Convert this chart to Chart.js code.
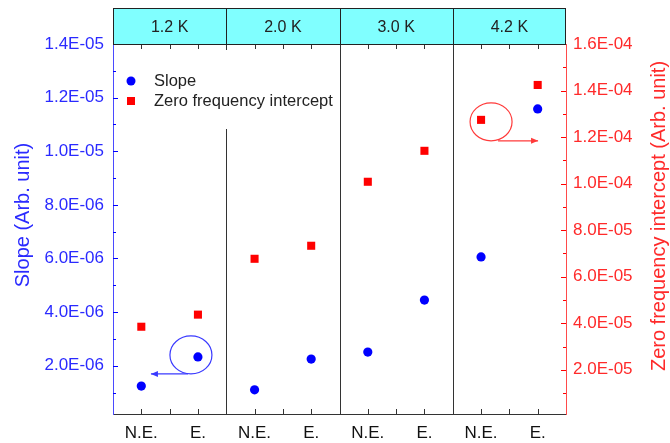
<!DOCTYPE html>
<html><head><meta charset="utf-8">
<script src="https://cdn.jsdelivr.net/npm/chart.js@4"></script>
<style>html,body{margin:0;padding:0;background:#fff;}canvas{display:block;}</style>
</head><body>
<canvas id="c" width="670" height="443" style="width:670px;height:443px"></canvas>
<script>
// ---- data ----
const temperatures = ['1.2 K', '2.0 K', '3.0 K', '4.2 K'];
const conditions = ['N.E.', 'E.'];
const seriesNames = ['Slope', 'Zero frequency intercept'];
const slopeNE = [1.24e-6, 1.10e-6, 2.51e-6, 6.06e-6];
const slopeE = [2.33e-6, 2.25e-6, 4.45e-6, 1.158e-5];
const interceptNE = [3.85e-5, 6.77e-5, 1.008e-4, 1.274e-4];
const interceptE = [4.37e-5, 7.33e-5, 1.141e-4, 1.424e-4];
const leftTickValues = [2e-6, 4e-6, 6e-6, 8e-6, 1e-5, 1.2e-5, 1.4e-5];
const leftTickLabels = ['2.0E-06', '4.0E-06', '6.0E-06', '8.0E-06', '1.0E-05', '1.2E-05', '1.4E-05'];
const rightTickValues = [2e-5, 4e-5, 6e-5, 8e-5, 1e-4, 1.2e-4, 1.4e-4, 1.6e-4];
const rightTickLabels = ['2.0E-05', '4.0E-05', '6.0E-05', '8.0E-05', '1.0E-04', '1.2E-04', '1.4E-04', '1.6E-04'];
const leftTitle = 'Slope (Arb. unit)';
const rightTitle = 'Zero frequency intercept (Arb. unit)';

// ---- styling / layout ----
const FONT = 'Arial, "Liberation Sans", sans-serif';
const BLUE = '#0000ff', RED = '#ff0000';
const BLUE_TXT = '#2a2aff', RED_TXT = '#ff2a2a';
const SLOTS = 4;
function xPos(panel, cond) { return panel * SLOTS + 1 + cond * 2; }

const slopeData = [], interceptData = [];
temperatures.forEach((t, i) => {
  slopeData.push({x: xPos(i, 0), y: slopeNE[i]}, {x: xPos(i, 1), y: slopeE[i]});
  interceptData.push({x: xPos(i, 0), y: interceptNE[i]}, {x: xPos(i, 1), y: interceptE[i]});
});
const xTickValues = [];
temperatures.forEach((t, i) => conditions.forEach((c, j) => xTickValues.push(xPos(i, j))));

function drawArrow(ctx, x0, y0, x1, y1, color) {
  ctx.strokeStyle = color; ctx.fillStyle = color; ctx.lineWidth = 1.2;
  ctx.beginPath(); ctx.moveTo(x0, y0); ctx.lineTo(x1, y1); ctx.stroke();
  const dir = Math.sign(x1 - x0);
  ctx.beginPath(); ctx.moveTo(x1, y1); ctx.lineTo(x1 - dir * 7, y1 - 3); ctx.lineTo(x1 - dir * 7, y1 + 3); ctx.closePath(); ctx.fill();
}

const decor = {
  id: 'decor',
  beforeDatasetsDraw(chart) {
    const {ctx, chartArea: a, scales: {x, y, y1}} = chart;
    ctx.save();
    ctx.lineWidth = 1;
    // panel dividers
    ctx.strokeStyle = '#333';
    for (let p = 1; p < temperatures.length; p++) {
      const px = Math.round(x.getPixelForValue(p * SLOTS)) + 0.5;
      ctx.beginPath(); ctx.moveTo(px, a.top); ctx.lineTo(px, a.bottom); ctx.stroke();
    }
    // legend background
    ctx.fillStyle = '#fff';
    ctx.fillRect(a.left + 3, a.top + 6, 222, 79);
    // inward ticks on x (top and bottom)
    ctx.strokeStyle = '#333';
    for (let v = 1; v < temperatures.length * SLOTS; v++) {
      const px = Math.round(x.getPixelForValue(v)) + 0.5;
      ctx.beginPath(); ctx.moveTo(px, a.bottom); ctx.lineTo(px, a.bottom - 5); ctx.stroke();
      ctx.beginPath(); ctx.moveTo(px, a.top); ctx.lineTo(px, a.top + 5); ctx.stroke();
    }
    // left minor+major ticks
    ctx.strokeStyle = BLUE;
    for (let k = 1; k <= 13; k++) {
      const v = k * 1e-6;
      const py = Math.round(y.getPixelForValue(v)) + 0.5;
      const len = (k % 2 === 0) ? 5 : 3;
      ctx.beginPath(); ctx.moveTo(a.left, py); ctx.lineTo(a.left + len, py); ctx.stroke();
    }
    ctx.strokeStyle = RED;
    for (let k = 1; k <= 15; k++) {
      const v = k * 1e-5;
      const py = Math.round(y1.getPixelForValue(v)) + 0.5;
      const len = (k % 2 === 0) ? 5 : 3;
      ctx.beginPath(); ctx.moveTo(a.right, py); ctx.lineTo(a.right - len, py); ctx.stroke();
    }
    ctx.restore();
  },
  afterDatasetsDraw(chart) {
    const {ctx, chartArea: a, scales: {x, y, y1}} = chart;
    ctx.save();
    // legend
    const lx = a.left + 18;
    const ly0 = a.top + 37, ly1 = a.top + 57;
    ctx.fillStyle = BLUE;
    ctx.beginPath(); ctx.arc(lx, ly0, 4.5, 0, Math.PI * 2); ctx.fill();
    ctx.fillStyle = RED;
    ctx.fillRect(lx - 4, ly1 - 4, 8, 8);
    ctx.fillStyle = '#222';
    ctx.font = '16.5px ' + FONT;
    ctx.textBaseline = 'middle'; ctx.textAlign = 'left';
    ctx.fillText(seriesNames[0], lx + 23, ly0);
    ctx.fillText(seriesNames[1], lx + 23, ly1);

    // annotation: blue ellipse + arrow
    const bx = x.getPixelForValue(xPos(0, 1)), by = y.getPixelForValue(slopeE[0]);
    ctx.strokeStyle = '#3a3aff'; ctx.lineWidth = 1.2;
    ctx.beginPath(); ctx.ellipse(bx - 7, by - 2, 21, 19, 0, 0, Math.PI * 2); ctx.stroke();
    drawArrow(ctx, bx - 10, by + 17, bx - 47, by + 17, '#3a3aff');
    // annotation: red ellipse + arrow
    const rx = x.getPixelForValue(xPos(3, 0)), ry = y1.getPixelForValue(interceptNE[3]);
    ctx.strokeStyle = '#ff3a3a';
    ctx.beginPath(); ctx.ellipse(rx + 10, ry + 2, 21, 19, 0, 0, Math.PI * 2); ctx.stroke();
    drawArrow(ctx, rx + 17, ry + 21, rx + 57, ry + 21, '#ff3a3a');

    // header strip
    const hTop = 8.5, hBot = Math.round(a.top) + 0.5;
    ctx.fillStyle = '#80ffff';
    ctx.fillRect(a.left, hTop, a.right - a.left, hBot - hTop);
    ctx.strokeStyle = '#222'; ctx.lineWidth = 1;
    ctx.strokeRect(Math.round(a.left) + 0.5, hTop, Math.round(a.right - a.left) - 1, hBot - hTop);
    for (let p = 1; p < temperatures.length; p++) {
      const px = Math.round(x.getPixelForValue(p * SLOTS)) + 0.5;
      ctx.beginPath(); ctx.moveTo(px, hTop); ctx.lineTo(px, hBot); ctx.stroke();
    }
    ctx.fillStyle = '#222';
    ctx.font = '16px ' + FONT; ctx.textAlign = 'center'; ctx.textBaseline = 'middle';
    temperatures.forEach((t, i) => {
      const cx = x.getPixelForValue(i * SLOTS + SLOTS / 2);
      ctx.fillText(t, cx, (hTop + hBot) / 2 + 1);
    });

    // axis titles (both read bottom-to-top)
    ctx.font = '20px ' + FONT;
    ctx.fillStyle = BLUE_TXT;
    ctx.save(); ctx.translate(23, 215); ctx.rotate(-Math.PI / 2); ctx.fillText(leftTitle, 0, 0); ctx.restore();
    ctx.fillStyle = RED_TXT;
    ctx.save(); ctx.translate(659, 216); ctx.rotate(-Math.PI / 2); ctx.fillText(rightTitle, 0, 0); ctx.restore();
    ctx.restore();
  }
};

new Chart(document.getElementById('c'), {
  type: 'scatter',
  data: {
    datasets: [
      {label: seriesNames[0], data: slopeData, yAxisID: 'y', pointStyle: 'circle', pointRadius: 4.6,
       backgroundColor: BLUE, borderColor: BLUE, borderWidth: 0},
      {label: seriesNames[1], data: interceptData, yAxisID: 'y1', pointStyle: 'rect', pointRadius: 5.7,
       backgroundColor: RED, borderColor: RED, borderWidth: 0}
    ]
  },
  options: {
    responsive: false, animation: false, devicePixelRatio: 1,
    layout: {padding: {top: 44, left: 0, right: 0, bottom: 0}},
    plugins: {legend: {display: false}, tooltip: {enabled: false}},
    scales: {
      x: {
        type: 'linear', min: 0, max: temperatures.length * SLOTS,
        afterBuildTicks: s => { s.ticks = xTickValues.map(v => ({value: v})); },
        afterFit: s => { s.height = 29; },
        ticks: {autoSkip: false, maxRotation: 0, padding: 9, color: '#111',
          font: {family: FONT, size: 17},
          callback: (v, i) => conditions[i % conditions.length]},
        grid: {display: true, drawOnChartArea: false, drawTicks: false},
        border: {display: true, color: '#333', width: 1}
      },
      y: {
        type: 'linear', position: 'left', min: 2e-7, max: 1.4e-5,
        afterBuildTicks: s => { s.ticks = leftTickValues.map(v => ({value: v})); },
        afterFit: s => { s.width = 113; },
        ticks: {padding: 9, color: BLUE_TXT, font: {family: FONT, size: 17},
          callback: (v, i) => leftTickLabels[i]},
        grid: {display: true, drawOnChartArea: false, drawTicks: false},
        border: {display: true, color: '#4a4aff', width: 1}
      },
      y1: {
        type: 'linear', position: 'right', min: 1e-6, max: 1.6e-4,
        afterBuildTicks: s => { s.ticks = rightTickValues.map(v => ({value: v})); },
        afterFit: s => { s.width = 104; },
        ticks: {padding: 7, color: RED_TXT, font: {family: FONT, size: 17},
          callback: (v, i) => rightTickLabels[i]},
        grid: {display: true, drawOnChartArea: false, drawTicks: false},
        border: {display: true, color: '#ff4a4a', width: 1}
      }
    }
  },
  plugins: [decor]
});
</script>
</body></html>
